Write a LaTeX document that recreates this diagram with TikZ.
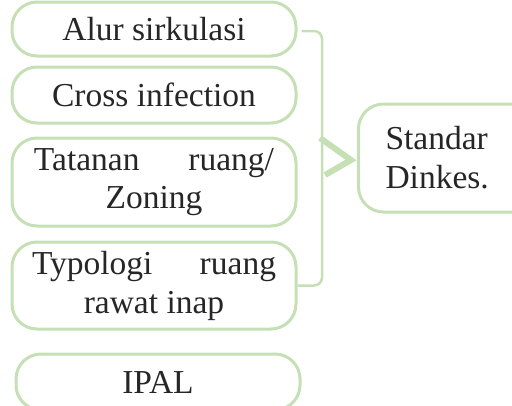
\documentclass[tikz,border=0pt]{standalone}
\usepackage{fontspec}
\setmainfont{Liberation Serif}
\definecolor{lgreen}{HTML}{C5E0B4}
\definecolor{txt}{HTML}{262626}
\begin{document}
\begin{tikzpicture}[x=1pt,y=-1pt,
  box/.style={draw=lgreen, line width=3pt, rounded corners=25pt, text=txt,
    minimum width=284pt, inner sep=0pt, align=center,
    font=\fontsize{33.5}{39}\selectfont},
  link/.style={draw=lgreen, line width=2.5pt, rounded corners=8pt}]
\useasboundingbox (0,0) rectangle (512,405);
\node[box, minimum height=54pt] (b1) at (154,29) {Alur sirkulasi};
\node[box, minimum height=56pt] (b2) at (154,95) {Cross infection};
\node[box, minimum height=88pt] (b3) at (154,182) {\hbox to 240pt{Tatanan\hfill ruang/}\\[-1pt]Zoning};
\node[box, minimum height=87pt] (b4) at (154,285.5) {\hbox to 244pt{Typologi\hfill ruang}\\rawat inap};
\node[box, minimum height=56pt] (b5) at (158,382) {IPAL};
\node[box, minimum height=108pt, minimum width=0pt, text width=150pt, align=left,
      inner xsep=27pt, anchor=west] (sd) at (357,158) {Standar\\Dinkes.};
\coordinate (br) at (322,0);
\draw[link] ([xshift=4pt,yshift=-2pt]b1.east) -- ([yshift=-2pt]b1.east -| br) -- (b4.east -| br) -- (b4.east);
\coordinate (c1) at (320,138);
\coordinate (c2) at (351,160);
\coordinate (c3) at (325,175);
\draw[draw=lgreen, line width=6pt] (c1) -- (c2) -- (c3);
\end{tikzpicture}
\end{document}
